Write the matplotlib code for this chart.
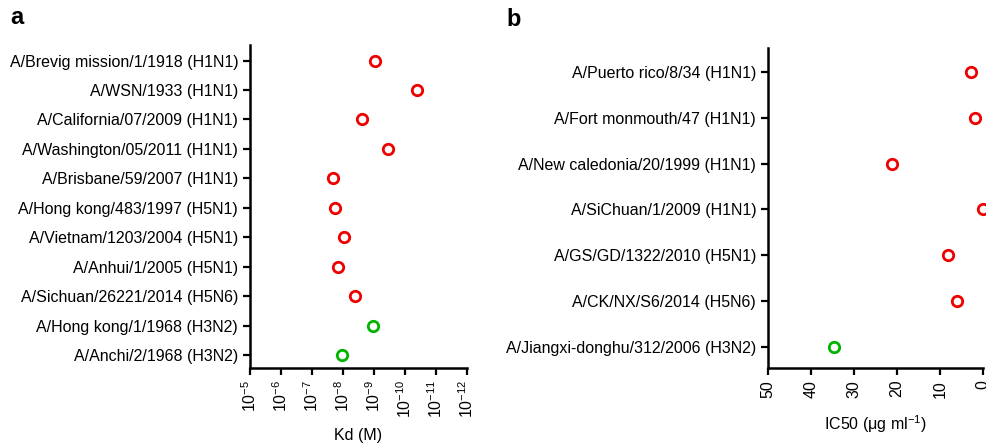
import matplotlib
matplotlib.use("Agg")
import matplotlib.pyplot as plt
import numpy as np

plt.rcParams["font.family"] = ["Liberation Sans", "DejaVu Sans"]
plt.rcParams["mathtext.fontset"] = "custom"
plt.rcParams["mathtext.rm"] = "Liberation Sans"
plt.rcParams["mathtext.it"] = "Liberation Sans:italic"

# panel a: binding affinity
strains_a = [
    "A/Brevig mission/1/1918 (H1N1)",
    "A/WSN/1933 (H1N1)",
    "A/California/07/2009 (H1N1)",
    "A/Washington/05/2011 (H1N1)",
    "A/Brisbane/59/2007 (H1N1)",
    "A/Hong kong/483/1997 (H5N1)",
    "A/Vietnam/1203/2004 (H5N1)",
    "A/Anhui/1/2005 (H5N1)",
    "A/Sichuan/26221/2014 (H5N6)",
    "A/Hong kong/1/1968 (H3N2)",
    "A/Anchi/2/1968 (H3N2)",
]
kd = [9.3e-10, 4.0e-11, 2.4e-9, 3.5e-10, 2.1e-8, 1.8e-8, 9.1e-9, 1.5e-8, 4.1e-9, 1.05e-9, 1.05e-8]
groups_a = ["g1"] * 9 + ["g2"] * 2

# panel b: neutralisation
strains_b = [
    "A/Puerto rico/8/34 (H1N1)",
    "A/Fort monmouth/47 (H1N1)",
    "A/New caledonia/20/1999 (H1N1)",
    "A/SiChuan/1/2009 (H1N1)",
    "A/GS/GD/1322/2010 (H5N1)",
    "A/CK/NX/S6/2014 (H5N6)",
    "A/Jiangxi-donghu/312/2006 (H3N2)",
]
ic50 = [2.7, 1.9, 21.2, 0.1, 8.1, 6.0, 34.6]
groups_b = ["g1"] * 6 + ["g2"]

colors = {"g1": "#ee0000", "g2": "#00b400"}

fig = plt.figure(figsize=(9.87, 4.43), dpi=100)
ax_a = fig.add_axes([250 / 987, 1 - 368 / 443, 217 / 987, 323 / 443])
ax_b = fig.add_axes([768 / 987, 1 - 368 / 443, 215 / 987, 320 / 443])


def style(ax):
    for s in ["top", "right"]:
        ax.spines[s].set_visible(False)
    for s in ["left", "bottom"]:
        ax.spines[s].set_linewidth(1.8)
    ax.tick_params(direction="out", length=5, width=1.6, labelsize=11.5, colors="black")
    ax.tick_params(axis="x", labelrotation=90)


# a
ya = np.arange(len(strains_a))
for y, v, g in zip(ya, kd, groups_a):
    ax_a.plot(v, y, "o", ms=7.5, mfc="white", mec=colors[g], mew=2.0, clip_on=False)
ax_a.set_xscale("log")
ax_a.set_xlim(1e-5, 1e-12)
ax_a.set_xticks([10.0 ** -k for k in range(5, 13)])
ax_a.minorticks_off()
ax_a.set_yticks(ya)
ax_a.set_yticklabels(strains_a)
ax_a.set_ylim(len(strains_a) - 1 + 0.44, -0.53)
ax_a.set_xlabel("Kd (M)", fontsize=11.5, labelpad=7)
style(ax_a)

# b
yb = np.arange(len(strains_b))
for y, v, g in zip(yb, ic50, groups_b):
    ax_b.plot(v, y, "o", ms=7.5, mfc="white", mec=colors[g], mew=2.0, clip_on=False)
ax_b.set_xlim(50, 0)
ax_b.set_xticks([50, 40, 30, 20, 10, 0])
ax_b.set_yticks(yb)
ax_b.set_yticklabels(strains_b)
ax_b.set_ylim(len(strains_b) - 1 + 0.46, -0.52)
ax_b.set_xlabel("IC50 (μg ml$^{-1}$)", fontsize=11.5, labelpad=11)
style(ax_b)

fig.text(10 / 987, 1 - 18 / 443, "a", fontsize=17, fontweight="bold", va="center")
fig.text(506 / 987, 1 - 20 / 443, "b", fontsize=17, fontweight="bold", va="center")

fig.savefig("out.png", dpi=100)
